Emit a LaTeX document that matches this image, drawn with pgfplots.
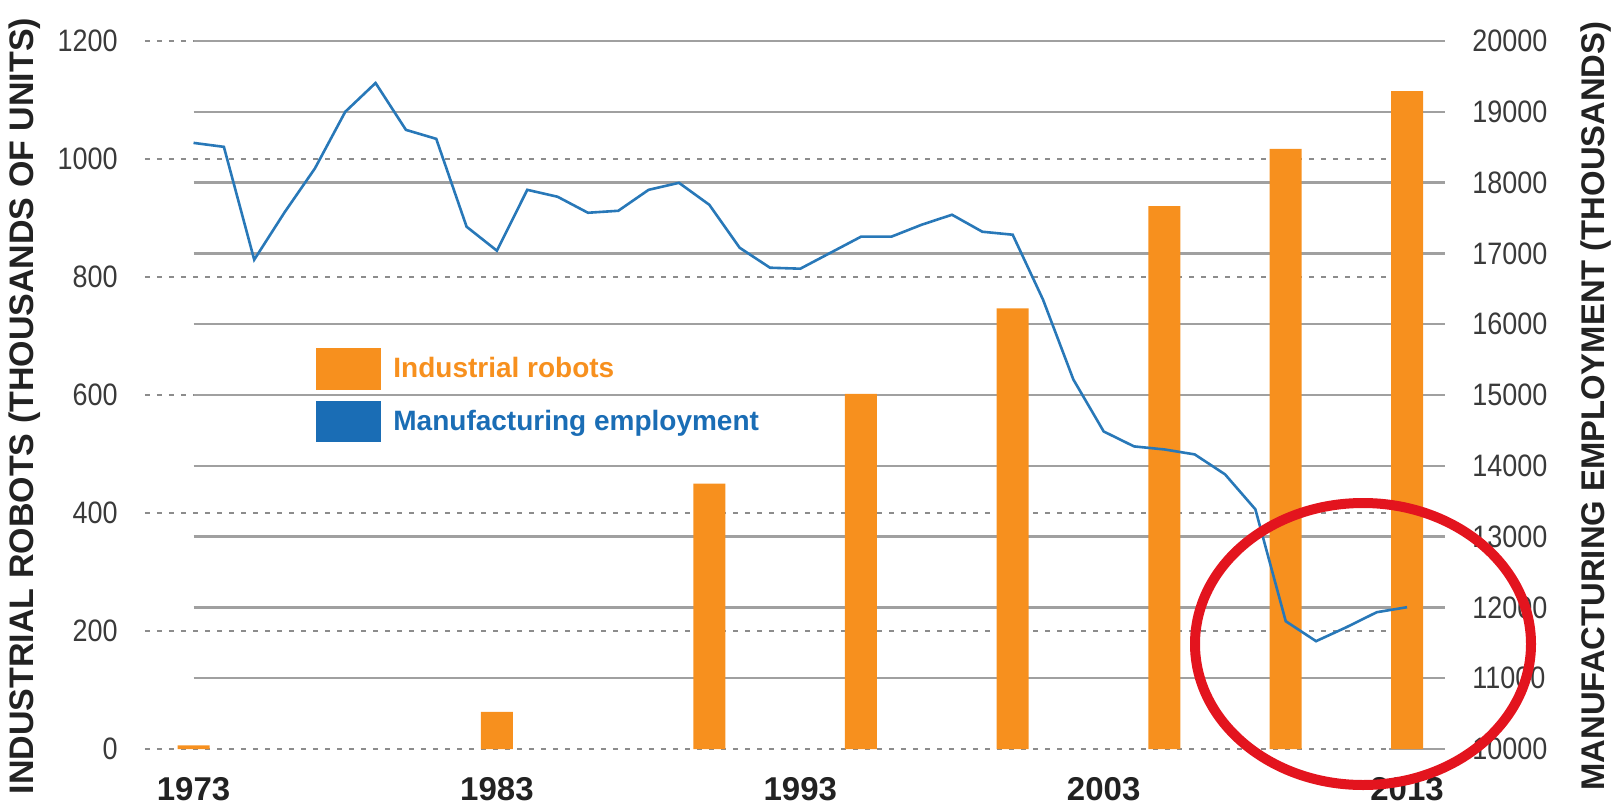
\documentclass[border=0pt]{standalone}
\usepackage{fontspec}
\setmainfont{Liberation Sans}
\newfontfamily\condfont[FakeStretch=0.87]{Liberation Sans}
\usepackage{pgfplots}
\pgfplotsset{compat=1.18}

\definecolor{robotorange}{HTML}{F7901E}
\definecolor{emplblue}{HTML}{2878B8}
\definecolor{legblue}{HTML}{1A6DB5}
\definecolor{gridgray}{HTML}{A0A0A0}
\definecolor{dashgray}{HTML}{8C8C8C}
\definecolor{ticktext}{HTML}{3A3A3A}
\definecolor{titletext}{HTML}{222222}
\definecolor{circlered}{HTML}{E3141E}

\pgfplotsset{
  chartbase/.style={
    width=650pt, height=354pt, scale only axis,
    at={(0pt,0pt)}, anchor=south west,
    xmin=1971.4, xmax=2014.25,
    axis line style={draw=none},
    major tick length=0pt,
    tick style={draw=none},
    scaled ticks=false,
    clip=false,
  },
  ticknum/.style={font=\condfont\fontsize{15.5}{18}\selectfont, text=ticktext, inner sep=0pt},
}

\begin{document}
\begin{tikzpicture}
\path[use as bounding box] (-72.5pt,-28pt) rectangle (733.5pt,374.5pt);

% left axis: robots (bars) + all grid lines
\begin{axis}[chartbase,
  ymin=0, ymax=1200,
  ytick={0,200,400,600,800,1000,1200},
  yticklabels={0,200,400,600,800,1000,1200},
  yticklabel style={ticknum, anchor=east, xshift=-13.5pt},
  xtick={1973,1983,1993,2003,2013},
  xticklabels={1973,1983,1993,2003,2013},
  xticklabel style={font=\bfseries\fontsize{16.5}{19}\selectfont, text=titletext, anchor=north, inner sep=0pt, yshift=-14pt},
]
% dashed lines belong to the left scale
\pgfplotsinvokeforeach{0,200,...,1200}{
  \draw[dashgray, line width=0.8pt, dash pattern=on 2.5pt off 3.5pt] (axis cs:1971.4,#1) -- (axis cs:2012.4,#1);
}
% solid lines belong to the right scale (every 1000 = 120 here)
\pgfplotsinvokeforeach{120,240,...,1200}{
  \draw[gridgray, line width=1.2pt] (axis cs:1973,#1) -- (axis cs:2014.25,#1);
}
\draw[gridgray, line width=1.2pt] (axis cs:2012.4,0) -- (axis cs:2014.25,0);

\addplot[ybar, bar width=16pt, bar shift=0pt, fill=robotorange, draw=none]
  coordinates {
  (1973,6) (1983,63) (1990,450) (1995,602)
  (2000,747) (2005,920) (2009,1017) (2013,1115)
};
\end{axis}

% right axis: manufacturing employment
\begin{axis}[chartbase,
  ymin=10000, ymax=20000,
  ytick={10000,11000,...,20000},
  yticklabels={10000,11000,12000,13000,14000,15000,16000,17000,18000,19000,20000},
  yticklabel pos=right,
  yticklabel style={ticknum, anchor=west, xshift=13.5pt},
  xtick=\empty,
]
\addplot[emplblue, line width=1.3pt, mark=none] coordinates {
  (1973,18561) (1974,18505) (1975,16911) (1976,17580) (1977,18200)
  (1978,19000) (1979,19407) (1980,18745) (1981,18618) (1982,17377)
  (1983,17038) (1984,17898) (1985,17800) (1986,17574) (1987,17602)
  (1988,17898) (1989,17997) (1990,17687) (1991,17080) (1992,16798)
  (1993,16784) (1994,17010) (1995,17236) (1996,17236) (1997,17405)
  (1998,17546) (1999,17306) (2000,17264) (2001,16347) (2002,15219)
  (2003,14485) (2004,14274) (2005,14231) (2006,14161) (2007,13879)
  (2008,13385) (2009,11805) (2010,11523) (2011,11720) (2012,11932)
  (2013,12003)
};
\end{axis}

% axis titles
\node[rotate=90, inner sep=0pt, text=titletext, font=\bfseries\fontsize{17}{20}\selectfont]
  at (-60pt,171.5pt) {INDUSTRIAL ROBOTS (THOUSANDS OF UNITS)};
\node[rotate=90, inner sep=0pt, text=titletext, font=\bfseries\fontsize{16.4}{20}\selectfont]
  at (725.5pt,171.5pt) {MANUFACTURING EMPLOYMENT (THOUSANDS)};

% legend
\fill[robotorange] (85.5pt,179.5pt) rectangle (118pt,200.5pt);
\fill[legblue] (85.5pt,153.5pt) rectangle (118pt,174pt);
\node[anchor=base west, inner sep=0pt, text=robotorange, font=\bfseries\fontsize{14}{17}\selectfont]
  at (124pt,186pt) {Industrial robots};
\node[anchor=base west, inner sep=0pt, text=legblue, font=\bfseries\fontsize{14}{17}\selectfont]
  at (124pt,159.5pt) {Manufacturing employment};

% red highlight ring
\draw[circlered, line width=5pt] (609pt,52.5pt) ellipse [x radius=84pt, y radius=70.5pt];
\end{tikzpicture}
\end{document}
